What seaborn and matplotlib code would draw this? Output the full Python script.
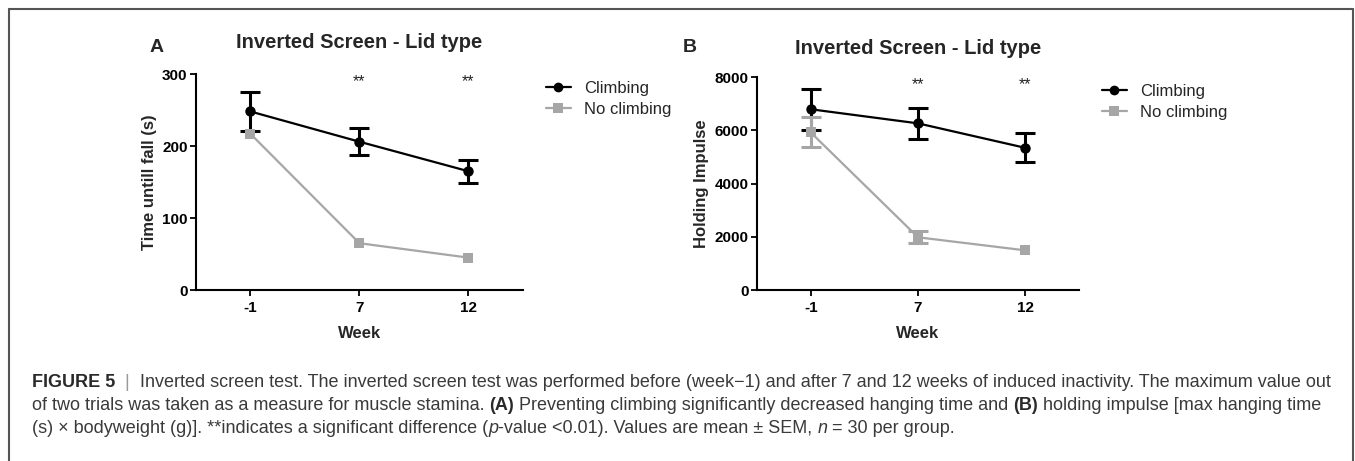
import matplotlib
matplotlib.use("Agg")
import matplotlib.pyplot as plt
import seaborn as sns
import pandas as pd
import numpy as np
from matplotlib.lines import Line2D

# Data (mean +/- SEM, 0 = bar hidden behind marker)
weeks = ["-1", "7", "12"]
groups = ["Climbing", "No climbing"]

time_climbing = [248, 206, 165]
time_climbing_sem = [27, 19, 16]
time_noclimb = [217, 65, 45]
time_noclimb_sem = [0, 0, 0]

impulse_climbing = [6790, 6260, 5340]
impulse_climbing_sem = [770, 580, 540]
impulse_noclimb = [5920, 1980, 1490]
impulse_noclimb_sem = [560, 230, 0]

sig_weeks = ["7", "12"]

COLORS = {"Climbing": "#000000", "No climbing": "#A6A6A6"}
MARKERS = {"Climbing": "o", "No climbing": "s"}

sns.set_theme(style="ticks")
plt.rcParams["font.family"] = ["Liberation Sans", "DejaVu Sans"]


def make_frame(values_a, sems_a, values_b, sems_b):
    return pd.DataFrame({
        "Week": weeks * 2,
        "Value": list(values_a) + list(values_b),
        "SEM": list(sems_a) + list(sems_b),
        "Group": [groups[0]] * len(weeks) + [groups[1]] * len(weeks),
    })


def draw_panel(ax, df, ymax, yticks, ylabel, star_y):
    sns.lineplot(data=df, x="Week", y="Value", hue="Group", style="Group",
                 palette=COLORS, markers=MARKERS, dashes=False, sort=False,
                 linewidth=1.6, markersize=7.5, markeredgewidth=0, ax=ax,
                 errorbar=None, legend=False)
    pos = {w: i for i, w in enumerate(weeks)}
    for g in groups:
        sub = df[(df["Group"] == g) & (df["SEM"] > 0)]
        if len(sub):
            ax.errorbar([pos[w] for w in sub["Week"]], sub["Value"], yerr=sub["SEM"],
                        fmt="none", ecolor=COLORS[g], elinewidth=2.2, capsize=7,
                        capthick=2.2, zorder=3 if g == "Climbing" else 4)
    # gray series sits above the black one
    for line in ax.lines:
        if matplotlib.colors.to_hex(line.get_color()) == COLORS["No climbing"].lower():
            line.set_zorder(5)

    ax.set_xlim(-0.5, len(weeks) - 0.5)
    ax.set_ylim(0, ymax)
    ax.set_yticks(yticks)
    ax.set_xlabel("Week", fontsize=12, fontweight="bold", labelpad=8)
    ax.set_ylabel(ylabel, fontsize=12, fontweight="bold", labelpad=4)
    for lab in ax.get_xticklabels() + ax.get_yticklabels():
        lab.set_fontweight("bold")
    ax.tick_params(axis="both", labelsize=11, width=1.3, length=4, pad=2,
                   colors="black")
    ax.tick_params(axis="x", pad=4)
    sns.despine(ax=ax)
    for s in ("left", "bottom"):
        ax.spines[s].set_linewidth(1.5)
        ax.spines[s].set_color("black")

    for w in sig_weeks:
        ax.text(pos[w], star_y, "**", ha="center", va="center", fontsize=11.5,
                color="#222222")

    handles = [Line2D([0], [0], color=COLORS[g], marker=MARKERS[g], lw=1.6,
                      markersize=7, markeredgewidth=0) for g in groups]
    ax.legend(handles, groups, loc="upper left", bbox_to_anchor=(1.05, 1.0),
              frameon=False, fontsize=12, handlelength=1.5, handletextpad=0.8,
              labelspacing=0.35, borderaxespad=0)


fig = plt.figure(figsize=(13.55, 4.61), dpi=100)
ax_a = fig.add_axes([0.1446, 0.3709, 0.2413, 0.4685])
ax_b = fig.add_axes([0.5587, 0.3709, 0.2376, 0.4620])

draw_panel(ax_a, make_frame(time_climbing, time_climbing_sem, time_noclimb, time_noclimb_sem),
           300, [0, 100, 200, 300], "Time untill fall (s)", 290)
draw_panel(ax_b, make_frame(impulse_climbing, impulse_climbing_sem, impulse_noclimb, impulse_noclimb_sem),
           8000, [0, 2000, 4000, 6000, 8000], "Holding Impulse", 7720)

W, H = 1355, 461
fig.text((196 + 523) / 2 / W, 1 - 42 / H, "Inverted Screen - Lid type", ha="center",
         va="center", fontsize=14.5, fontweight="bold")
fig.text((757 + 1079) / 2 / W, 1 - 48 / H, "Inverted Screen - Lid type", ha="center",
         va="center", fontsize=14.5, fontweight="bold")
fig.text(157 / W, 1 - 47 / H, "A", ha="center", va="center", fontsize=14, fontweight="bold")
fig.text(690 / W, 1 - 47 / H, "B", ha="center", va="center", fontsize=14, fontweight="bold")

# frame around the figure (bottom edge is cut off)
frame_kw = dict(color="#555555", lw=1.5, transform=fig.transFigure)
fig.add_artist(Line2D([9 / W, 9 / W], [0, 1 - 9 / H], **frame_kw))
fig.add_artist(Line2D([9 / W, 1353 / W], [1 - 9 / H, 1 - 9 / H], **frame_kw))
fig.add_artist(Line2D([1353 / W, 1353 / W], [0, 1 - 9 / H], **frame_kw))

# caption, drawn piece by piece so bold / italic / gray parts can be mixed
TXT = "#3a3a3a"
B = dict(fontweight="bold", color="#2a2a2a")
N = dict(color=TXT)
I = dict(color=TXT, style="italic")
G = dict(color="#9a9a9a")
caption = [
    [("FIGURE 5", B), ("  |  ", G),
     ("Inverted screen test. The inverted screen test was performed before (week\u22121) "
      "and after 7 and 12 weeks of induced inactivity. The maximum value out", N)],
    [("of two trials was taken as a measure for muscle stamina. ", N), ("(A)", B),
     (" Preventing climbing significantly decreased hanging time and ", N), ("(B)", B),
     (" holding impulse [max hanging time", N)],
    [("(s) \u00d7 bodyweight (g)]. **indicates a significant difference (", N), ("p", I),
     ("-value <0.01). Values are mean \u00b1 SEM, ", N), ("n", I), (" = 30 per group.", N)],
]
renderer = fig.canvas.get_renderer()
for i, segments in enumerate(caption):
    x = 32
    y = 1 - (382 + 23 * i) / H
    for s, props in segments:
        t = fig.text(x / W, y, s, ha="left", va="center", fontsize=13.0, **props)
        x += t.get_window_extent(renderer).width

fig.savefig("out.png", dpi=100)
